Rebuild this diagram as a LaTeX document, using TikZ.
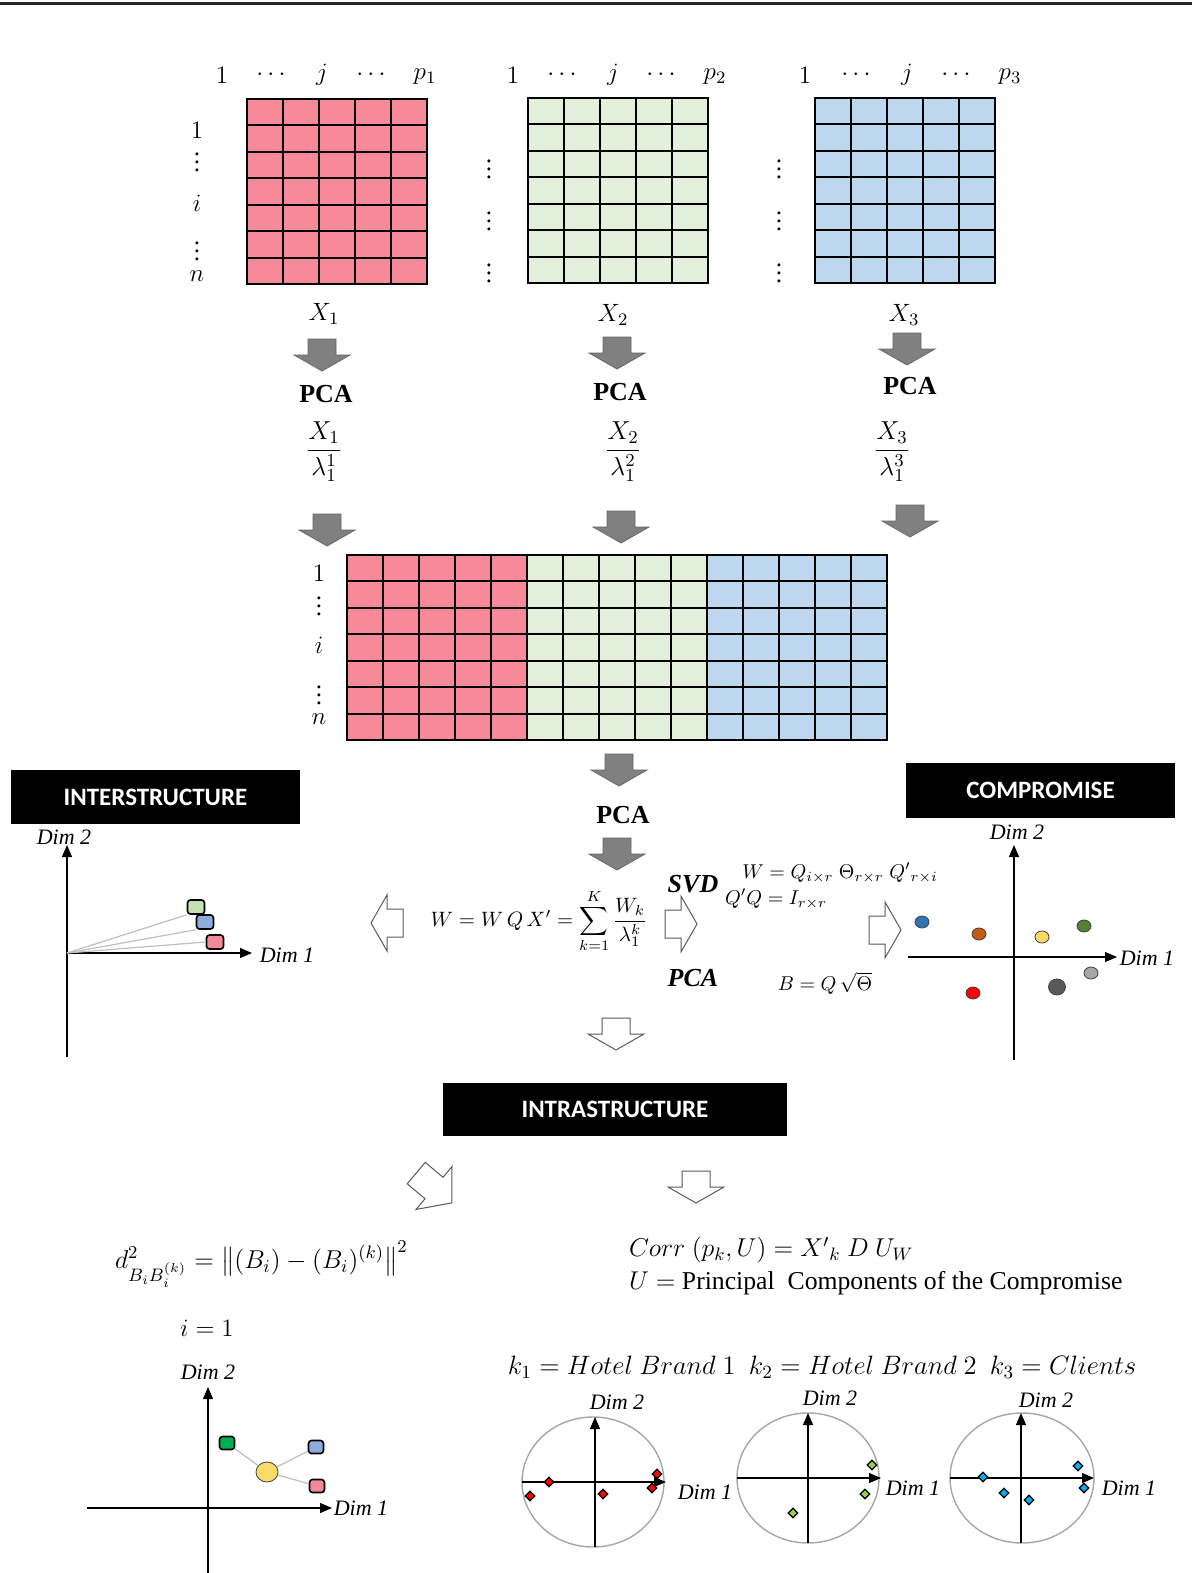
\RequirePackage{fix-cm}
\documentclass[tikz,border=0pt]{standalone}
\usepackage{amsmath}
\usepackage{fontspec}
\setmainfont{Liberation Serif}
\newfontfamily\boxfont{Carlito}
\usetikzlibrary{arrows.meta,shapes.geometric}

\definecolor{cellpink}{RGB}{246,138,153}
\definecolor{cellgreen}{RGB}{226,239,218}
\definecolor{cellblue}{RGB}{189,215,238}
\definecolor{tagpink}{RGB}{244,137,154}
\definecolor{taggreen}{RGB}{197,224,180}
\definecolor{tagblue}{RGB}{143,170,220}
\definecolor{tagdark}{RGB}{0,176,80}
\definecolor{ptyellow}{RGB}{255,217,102}
\definecolor{ptblue}{RGB}{46,117,182}
\definecolor{ptorange}{RGB}{197,90,17}
\definecolor{ptgreen}{RGB}{84,130,53}
\definecolor{ptlight}{RGB}{166,166,166}
\definecolor{ptdark}{RGB}{89,89,89}
\definecolor{ptred}{RGB}{255,0,0}
\definecolor{mkgreen}{RGB}{146,208,80}
\definecolor{mkcyan}{RGB}{0,176,240}

\newcommand\datablock[3]{%
 \begin{scope}[shift={(#1,#2)}]
  \fill[#3] (0,0) rectangle (180,185);
  \foreach \c in {0,36,...,180} \draw[cell] (\c,0)--(\c,185);
  \foreach \r in {0,...,7} \draw[cell] (0,{\r*185/7})--(180,{\r*185/7});
 \end{scope}}

\begin{document}
\begin{tikzpicture}[x=.5pt,y=-.5pt,
  cell/.style={line width=1pt,line cap=rect},
  idx/.style={inner sep=1pt,font=\fontsize{12.5}{14}\selectfont},
  pca/.style={font=\fontsize{13}{15}\selectfont\bfseries},
  grayarrow/.style={fill=black!50,draw=black!60,line width=.4pt},
  openarrow/.style={fill=white,draw=black!65,line width=.5pt},
  banner/.style={fill=black,text=white,inner sep=0pt,font=\boxfont\bfseries\fontsize{12.5}{15}\selectfont},
  axis/.style={line width=.6pt,-{Triangle[length=6pt,width=5pt]}},
  dim/.style={font=\itshape\fontsize{11}{13}\selectfont},
  eq/.style={font=\fontsize{10}{12}\selectfont},
  big/.style={font=\fontsize{13}{15}\selectfont},
  tag/.style={draw,line width=.8pt,rounded corners=1.5pt,inner sep=0pt,minimum width=8.5pt,minimum height=7pt},
  dot/.style={ellipse,draw=black!75,line width=.4pt,inner sep=0pt,minimum width=7pt,minimum height=6pt},
  dmd/.style={diamond,draw,line width=.6pt,inner sep=0pt,minimum size=5pt},
  ring/.style={black!35,line width=.7pt},
  link/.style={black!25,line width=.6pt},
  pics/blockarrow/.style={code={\draw[#1] (-16,-14)--(0,-14)--(0,-28)--(16,0)--(0,28)--(0,14)--(-16,14)--cycle;}}]
\useasboundingbox (0,0) rectangle (1192,1573);
\draw[line width=1.5pt,black!85] (0,4)--(1192,4);

% the three separate tables
\datablock{247}{99}{cellpink}
\datablock{528}{98}{cellgreen}
\datablock{815}{98}{cellblue}

\node[idx] (a1) at (222,75) {$1$};
\node[idx] (a2) at (273,75) {$\cdots$};
\node[idx] (a3) at (322,75) {$j$};
\node[idx] (a4) at (373,75) {$\cdots$};
\node[idx] (a5) at (425,77) {$p_1$};
\node[idx] (b1) at (513,75) {$1$};
\node[idx] (b2) at (564,75) {$\cdots$};
\node[idx] (b3) at (613,75) {$j$};
\node[idx] (b4) at (663,75) {$\cdots$};
\node[idx] (b5) at (715,77) {$p_2$};
\node[idx] (c1) at (805,75) {$1$};
\node[idx] (c2) at (858,75) {$\cdots$};
\node[idx] (c3) at (907,75) {$j$};
\node[idx] (c4) at (958,75) {$\cdots$};
\node[idx] (c5) at (1010,77) {$p_3$};

\node[idx] (r1) at (197,130) {$1$};
\node[idx] (r2) at (197,156) {$\vdots$};
\node[idx] (r3) at (197,203) {$i$};
\node[idx] (r4) at (197,245) {$\vdots$};
\node[idx] (r5) at (197,276) {$n$};
\node[idx] (s1) at (489,163) {$\vdots$};
\node[idx] (s2) at (489,215) {$\vdots$};
\node[idx] (s3) at (489,267) {$\vdots$};
\node[idx] (t1) at (779,163) {$\vdots$};
\node[idx] (t2) at (779,215) {$\vdots$};
\node[idx] (t3) at (779,267) {$\vdots$};

\node[idx] (x1) at (324,314) {$X_1$};
\node[idx] (x2) at (613,315) {$X_2$};
\node[idx] (x3) at (904,315) {$X_3$};

\pic[rotate=-90] at (322,355) {blockarrow=grayarrow};
\pic[rotate=-90] at (617,353) {blockarrow=grayarrow};
\pic[rotate=-90] at (907,349) {blockarrow=grayarrow};
\node[pca] (pca1) at (326,394) {PCA};
\node[pca] (pca2) at (620,392) {PCA};
\node[pca] (pca3) at (910,386) {PCA};
\node[big] (w1) at (324,452) {$\dfrac{X_1}{\lambda_1^1}$};
\node[big] (w2) at (623,452) {$\dfrac{X_2}{\lambda_1^2}$};
\node[big] (w3) at (892,452) {$\dfrac{X_3}{\lambda_1^3}$};
\pic[rotate=-90] at (327,530) {blockarrow=grayarrow};
\pic[rotate=-90] at (621,527) {blockarrow=grayarrow};
\pic[rotate=-90] at (910,521) {blockarrow=grayarrow};

% joined table
\datablock{347}{555}{cellpink}
\datablock{527}{555}{cellgreen}
\datablock{707}{555}{cellblue}
\node[idx] (q1) at (319,573) {$1$};
\node[idx] (q2) at (319,600) {$\vdots$};
\node[idx] (q3) at (319,645) {$i$};
\node[idx] (q4) at (319,689) {$\vdots$};
\node[idx] (q5) at (319,719) {$n$};

\pic[rotate=-90] at (619,770) {blockarrow=grayarrow};
\node[pca] (pca4) at (623,815) {PCA};
\pic[rotate=-90] at (617,854) {blockarrow=grayarrow};

% interstructure
\node[banner,minimum width=144.5pt,minimum height=27pt] (inter) at (155.5,797) {INTERSTRUCTURE};
\coordinate (io) at (67,953);
\draw[axis] (67,1057)--(67,845);
\draw[axis] (io)--(252,953);
\node[dim] (id2) at (64,837) {Dim 2};
\node[dim] (id1) at (287,955) {Dim 1};
\node[tag,fill=taggreen] (tg) at (196,907) {};
\node[tag,fill=tagblue] (tb) at (205,922) {};
\node[tag,fill=tagpink] (tp) at (215,942) {};
\draw[link] (io)--(tg.south west);
\draw[link] (io)--(tb.south west);
\draw[link] (io)--(tp.west);

\pic[rotate=180] at (387,923) {blockarrow=openarrow};
\node[eq,inner sep=1pt,font=\fontsize{10.4}{12}\selectfont] (wsum) at (539,921) {$W = W\,Q\,X' = \displaystyle\sum_{k=1}^{K}\frac{W_k}{\lambda_1^k}$};
\pic at (681,924) {blockarrow=openarrow};
\node[pca,font=\fontsize{13}{15}\selectfont\bfseries\itshape] (svd) at (693,884) {SVD};
\node[pca,font=\fontsize{13}{15}\selectfont\bfseries\itshape] (pcai) at (693,978) {PCA};
\node[eq] (wdec) at (840,873) {$W = Q_{i\times r}\;\Theta_{r\times r}\;Q'{}_{r\times i}$};
\node[eq] (orth) at (776,899) {$Q'Q = I_{r\times r}$};
\node[eq] (bq) at (825,983) {$B = Q\,\sqrt{\Theta}$};
\pic at (885,930) {blockarrow=openarrow};

% compromise
\node[banner,minimum width=134.5pt,minimum height=27.5pt] (comp) at (1040.5,790.5) {COMPROMISE};
\draw[axis] (1014,1060)--(1014,845);
\draw[axis] (908,957)--(1117,957);
\node[dim] (cd2) at (1017,832) {Dim 2};
\node[dim] (cd1) at (1147,958) {Dim 1};
\node[dot,fill=ptblue] (u1) at (922,922) {};
\node[dot,fill=ptorange] (u2) at (979,934) {};
\node[dot,fill=ptyellow] (u3) at (1042,937) {};
\node[dot,fill=ptgreen] (u4) at (1084,926) {};
\node[dot,fill=ptlight] (u5) at (1091,973) {};
\node[dot,fill=ptdark,minimum width=8.5pt,minimum height=8pt] (u6) at (1057,987) {};
\node[dot,fill=ptred] (u7) at (973,993) {};

% intrastructure
\pic[rotate=-90] at (616,1034) {blockarrow=openarrow};
\node[banner,minimum width=172pt,minimum height=26.5pt] (intra) at (615,1109.5) {INTRASTRUCTURE};
\pic[rotate=-40,xscale=1.45] at (434,1188) {blockarrow=openarrow};
\pic[rotate=-90] at (696,1187) {blockarrow=openarrow};

\node[big,font=\fontsize{12.9}{15}\selectfont,anchor=west] (dist) at (108,1264) {$d^2_{B_iB_i^{(k)}} = \big\|(B_i) - (B_i)^{(k)}\big\|^2$};
\node[big,font=\fontsize{12.5}{15}\selectfont] (ione) at (207,1328) {$i = 1$};
\node[big,font=\fontsize{12.9}{15}\selectfont,anchor=west] (corr) at (622,1250) {$Corr\ (p_k,U) = X'{}_k\ D\ U_W$};
\node[big,font=\fontsize{12.85}{15}\selectfont,anchor=west] (ucomp) at (622,1283) {$U =$ Principal\ \ Components of the Compromise};
\node[big,font=\fontsize{13.3}{15}\selectfont] (klist) at (822,1367) {$k_1 = Hotel\ Brand\ 1\ \ k_2 = Hotel\ Brand\ 2\ \ k_3 = Clients$};

% distances to the compromise
\draw[axis] (208,1573)--(208,1387);
\draw[axis] (87,1508)--(332,1508);
\node[dim] (bd2) at (208,1372) {Dim 2};
\node[dim] (bd1) at (361,1508) {Dim 1};
\node[dot,fill=ptyellow,minimum width=11pt,minimum height=10pt] (bc) at (267,1472) {};
\node[tag,fill=tagdark,minimum width=7.5pt,minimum height=6.5pt] (bg) at (227,1443) {};
\node[tag,fill=tagblue,minimum width=7.5pt,minimum height=6.5pt] (bb) at (316,1447) {};
\node[tag,fill=tagpink,minimum width=7.5pt,minimum height=6.5pt] (bp) at (317,1486) {};
\draw[link] (bc)--(bg);
\draw[link] (bc)--(bb);
\draw[link] (bc)--(bp);

% correlation circles
\draw[ring] (593,1482) ellipse [x radius=71,y radius=65];
\draw[axis] (595,1547)--(595,1417);
\draw[axis] (522,1482)--(666,1482);
\node[dim] (e12) at (617,1402) {Dim 2};
\node[dim] (e11) at (705,1492) {Dim 1};
\node[dmd,fill=ptred] (m11) at (549,1482) {};
\node[dmd,fill=ptred] (m12) at (530,1496) {};
\node[dmd,fill=ptred] (m13) at (603,1494) {};
\node[dmd,fill=ptred] (m14) at (657,1474) {};
\node[dmd,fill=ptred] (m15) at (652,1488) {};

\draw[ring] (808,1478) ellipse [x radius=71,y radius=65];
\draw[axis] (808,1543)--(808,1413);
\draw[axis] (737,1478)--(881,1478);
\node[dim] (e22) at (830,1398) {Dim 2};
\node[dim] (e21) at (913,1488) {Dim 1};
\node[dmd,fill=mkgreen] (m21) at (872,1465) {};
\node[dmd,fill=mkgreen] (m22) at (865,1494) {};
\node[dmd,fill=mkgreen] (m23) at (793,1513) {};

\draw[ring] (1022,1478) ellipse [x radius=72,y radius=65];
\draw[axis] (1021,1543)--(1021,1413);
\draw[axis] (950,1478)--(1094,1478);
\node[dim] (e32) at (1046,1400) {Dim 2};
\node[dim] (e31) at (1129,1488) {Dim 1};
\node[dmd,fill=mkcyan] (m31) at (983,1477) {};
\node[dmd,fill=mkcyan] (m32) at (1004,1493) {};
\node[dmd,fill=mkcyan] (m33) at (1029,1500) {};
\node[dmd,fill=mkcyan] (m34) at (1078,1466) {};
\node[dmd,fill=mkcyan] (m35) at (1084,1488) {};
\end{tikzpicture}
\end{document}
